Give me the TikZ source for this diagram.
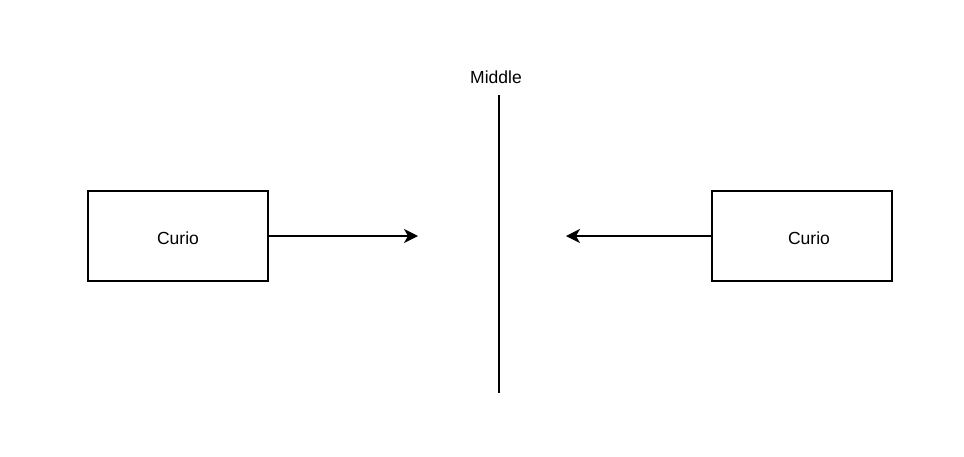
\documentclass[tikz,border=0pt]{standalone}
\usepackage{fontspec}
\setmainfont{Liberation Sans}
\usetikzlibrary{arrows.meta}
\begin{document}
\begin{tikzpicture}[x=1pt,y=-1pt,
  every node/.style={font=\fontsize{17.5pt}{20pt}\selectfont},
  curiobox/.style={draw,line width=1.1pt,minimum width=180pt,minimum height=90pt,inner sep=0pt},
  flow/.style={-{Stealth[length=14pt,width=14pt,inset=4pt]},line width=1.1pt}]
\useasboundingbox (0,0) rectangle (964,456);
\node[curiobox] (curiol) at (178,236) {};
\node[curiobox] (curior) at (802,236) {};
\node (textl) at (178,238) {Curio};
\node (textr) at (809,238) {Curio};
\node (middle) at (496,77) {Middle};
\coordinate (top) at (499,95);
\coordinate (bottom) at (499,393);
\draw[line width=1.1pt] (top) -- (bottom);
\coordinate (endl) at (418,236);
\coordinate (endr) at (566,236);
\draw[flow] (curiol.east) -- (endl);
\draw[flow] (curior.west) -- (endr);
\end{tikzpicture}
\end{document}
